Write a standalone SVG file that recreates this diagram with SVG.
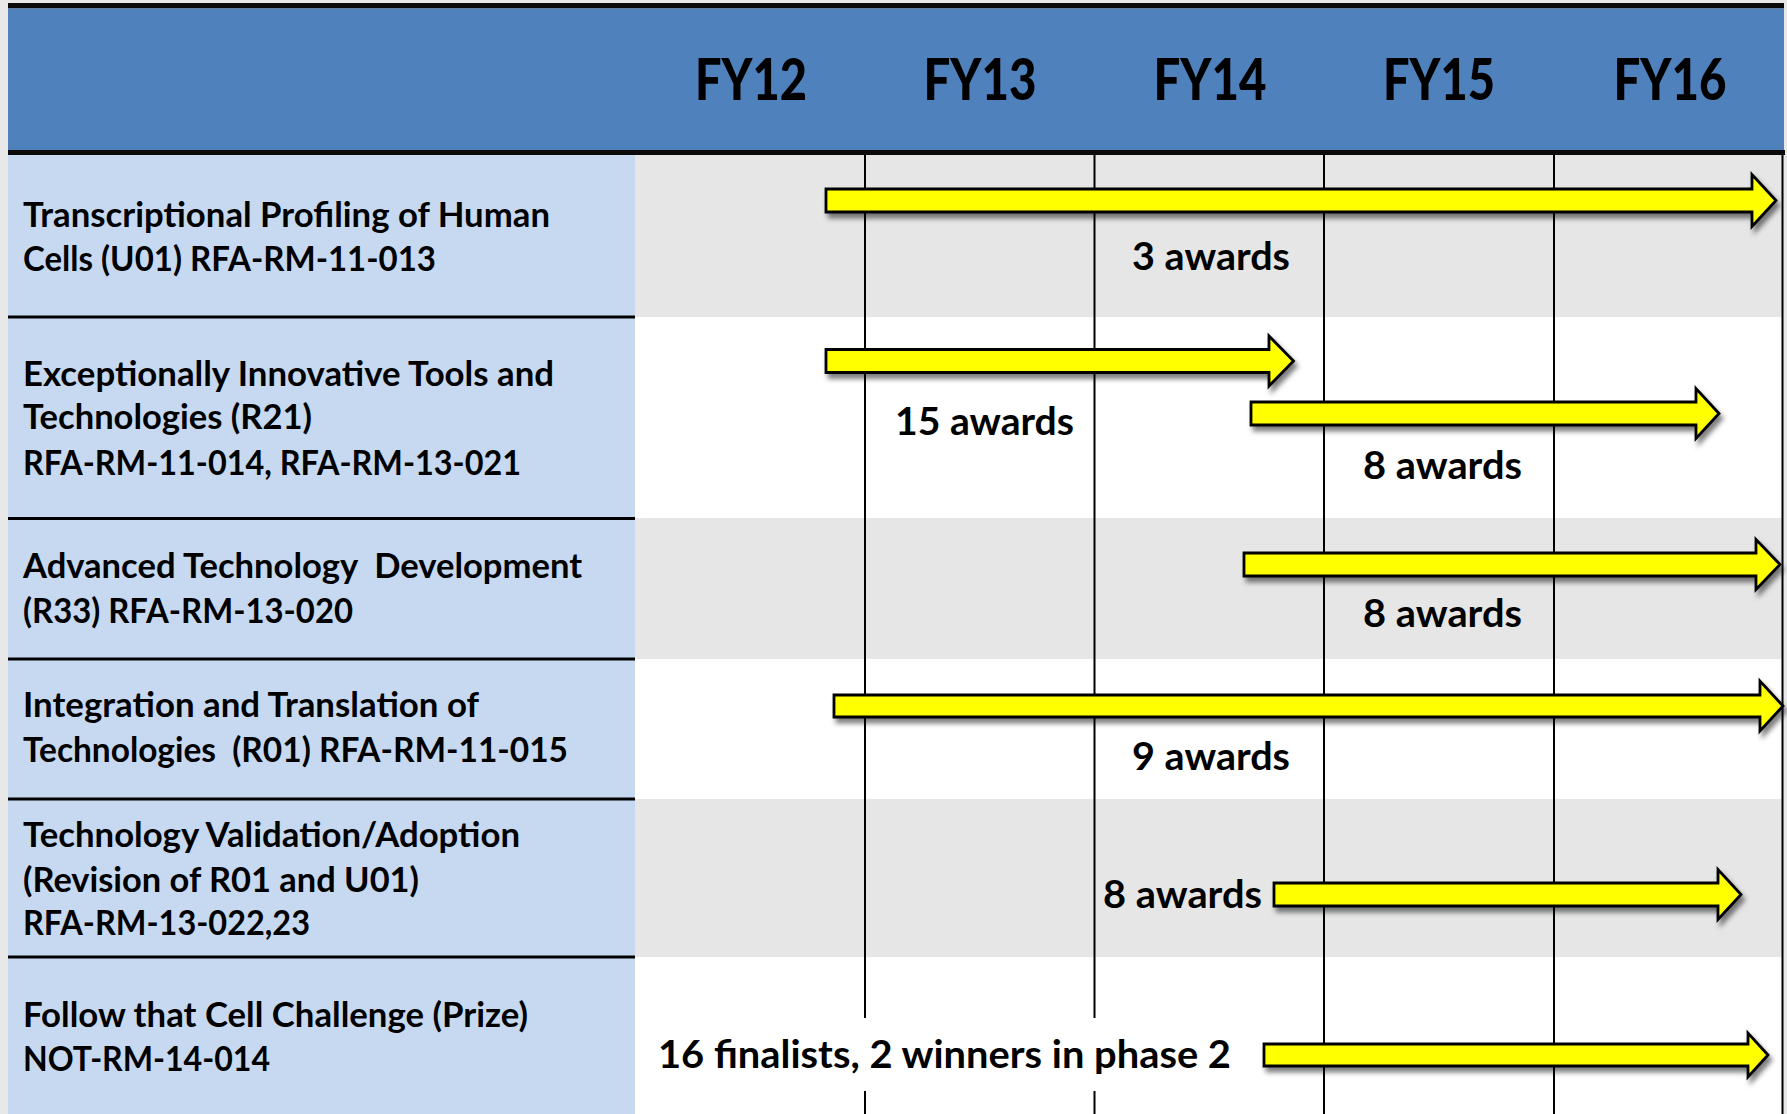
<svg xmlns="http://www.w3.org/2000/svg" width="1787" height="1114" viewBox="0 0 1787 1114">
<style>
text{font-family:Lato,"Liberation Sans",sans-serif;font-weight:bold;fill:#000;white-space:pre}
.fy{font-size:57px;text-anchor:middle;font-weight:900}
.lbl{font-size:33.5px}
.aw{font-size:39px}
.grid{stroke:#000;stroke-width:2}
.sep{stroke:#000;stroke-width:3}
.bar{fill:#ffff00;stroke:#000;stroke-width:2.8;stroke-linejoin:miter;filter:url(#sh)}
</style>
<defs>
<filter id="sh" x="-5%" y="-40%" width="115%" height="200%">
<feDropShadow dx="3" dy="5" stdDeviation="2.8" flood-color="#000" flood-opacity="0.5"/>
</filter>
</defs>
<rect x="0" y="0" width="1787" height="1114" fill="#e8e8e8"/>
<g id="header">
<rect x="8" y="3" width="1776" height="5.5" fill="#0a0a0a"/>
<rect x="8" y="8.5" width="1776" height="141.5" fill="#4f81bd"/>
<rect x="8" y="150" width="1777" height="5" fill="#0a0a0a"/>
<text class="fy" x="751" y="100" textLength="112" lengthAdjust="spacingAndGlyphs">FY12</text>
<text class="fy" x="980" y="100" textLength="113" lengthAdjust="spacingAndGlyphs">FY13</text>
<text class="fy" x="1210" y="100" textLength="113" lengthAdjust="spacingAndGlyphs">FY14</text>
<text class="fy" x="1439" y="100" textLength="112" lengthAdjust="spacingAndGlyphs">FY15</text>
<text class="fy" x="1670" y="100" textLength="113" lengthAdjust="spacingAndGlyphs">FY16</text>
</g>
<g id="backgrounds">
<rect x="8" y="155" width="627" height="959" fill="#c6d9f1"/>
<rect x="635" y="155" width="1148" height="162" fill="#e6e6e6"/>
<rect x="635" y="317" width="1148" height="201" fill="#ffffff"/>
<rect x="635" y="518" width="1148" height="141" fill="#e6e6e6"/>
<rect x="635" y="659" width="1148" height="140" fill="#ffffff"/>
<rect x="635" y="799" width="1148" height="158" fill="#e6e6e6"/>
<rect x="635" y="957" width="1148" height="157" fill="#ffffff"/>
</g>
<g id="gridlines">
<line class="grid" x1="865" y1="155" x2="865" y2="1114"/>
<line class="grid" x1="1094.5" y1="155" x2="1094.5" y2="1114"/>
<line class="grid" x1="1324" y1="155" x2="1324" y2="1114"/>
<line class="grid" x1="1554" y1="155" x2="1554" y2="1114"/>
<line class="grid" x1="1782.5" y1="155" x2="1782.5" y2="1114"/>
<line class="sep" x1="8" y1="317" x2="635" y2="317"/>
<line class="sep" x1="8" y1="518.5" x2="635" y2="518.5"/>
<line class="sep" x1="8" y1="659" x2="635" y2="659"/>
<line class="sep" x1="8" y1="799" x2="635" y2="799"/>
<line class="sep" x1="8" y1="957" x2="635" y2="957"/>
</g>
<g id="row1">
<text class="lbl" x="23" y="227" textLength="527" lengthAdjust="spacingAndGlyphs">Transcriptional Profiling of Human</text>
<text class="lbl" x="23" y="270.5" textLength="413" lengthAdjust="spacingAndGlyphs">Cells (U01) RFA-RM-11-013</text>
</g>
<g id="row2">
<text class="lbl" x="23" y="385.5" textLength="531" lengthAdjust="spacingAndGlyphs">Exceptionally Innovative Tools and</text>
<text class="lbl" x="23" y="429" textLength="289" lengthAdjust="spacingAndGlyphs">Technologies (R21)</text>
<text class="lbl" x="23" y="474.5" textLength="498" lengthAdjust="spacingAndGlyphs">RFA-RM-11-014, RFA-RM-13-021</text>
</g>
<g id="row3">
<text class="lbl" x="23" y="578" textLength="559" lengthAdjust="spacingAndGlyphs">Advanced Technology  Development</text>
<text class="lbl" x="23" y="623" textLength="330" lengthAdjust="spacingAndGlyphs">(R33) RFA-RM-13-020</text>
</g>
<g id="row4">
<text class="lbl" x="23" y="717" textLength="456" lengthAdjust="spacingAndGlyphs">Integration and Translation of</text>
<text class="lbl" x="23" y="762" textLength="545" lengthAdjust="spacingAndGlyphs">Technologies  (R01) RFA-RM-11-015</text>
</g>
<g id="row5">
<text class="lbl" x="23" y="847" textLength="497" lengthAdjust="spacingAndGlyphs">Technology Validation/Adoption</text>
<text class="lbl" x="23" y="892" textLength="396" lengthAdjust="spacingAndGlyphs">(Revision of R01 and U01)</text>
<text class="lbl" x="23" y="935" textLength="287" lengthAdjust="spacingAndGlyphs">RFA-RM-13-022,23</text>
</g>
<g id="row6">
<text class="lbl" x="23" y="1027" textLength="505" lengthAdjust="spacingAndGlyphs">Follow that Cell Challenge (Prize)</text>
<text class="lbl" x="23" y="1071" textLength="247" lengthAdjust="spacingAndGlyphs">NOT-RM-14-014</text>
</g>
<g id="bars">
<path class="bar" d="M826,189 L1752,189 L1752,174.5 L1776,200.5 L1752,226.5 L1752,212 L826,212 Z"/>
<path class="bar" d="M826,349.5 L1269,349.5 L1269,336 L1293.5,361 L1269,386 L1269,372.5 L826,372.5 Z"/>
<path class="bar" d="M1251,402 L1696,402 L1696,388.5 L1719,413.5 L1696,438.5 L1696,425 L1251,425 Z"/>
<path class="bar" d="M1244,553 L1756,553 L1756,539.5 L1780,564.5 L1756,589.5 L1756,576 L1244,576 Z"/>
<path class="bar" d="M834,695 L1760,695 L1760,681 L1783,706 L1760,731 L1760,717 L834,717 Z"/>
<path class="bar" d="M1274,883 L1718,883 L1718,869.5 L1741,894.5 L1718,919.5 L1718,906 L1274,906 Z"/>
<path class="bar" d="M1264,1044 L1748,1044 L1748,1033 L1768,1055 L1748,1077 L1748,1066 L1264,1066 Z"/>
</g>
<g id="award-labels">
<text class="aw" x="1132" y="270" textLength="158" lengthAdjust="spacingAndGlyphs">3 awards</text>
<text class="aw" x="895" y="435" textLength="179" lengthAdjust="spacingAndGlyphs">15 awards</text>
<text class="aw" x="1363" y="479" textLength="159" lengthAdjust="spacingAndGlyphs">8 awards</text>
<text class="aw" x="1363" y="627" textLength="159" lengthAdjust="spacingAndGlyphs">8 awards</text>
<text class="aw" x="1132" y="770" textLength="158" lengthAdjust="spacingAndGlyphs">9 awards</text>
<text class="aw" x="1103" y="908" textLength="159" lengthAdjust="spacingAndGlyphs">8 awards</text>
<rect x="645" y="1018" width="600" height="73" fill="#ffffff"/>
<text class="aw" x="658" y="1068" textLength="573" lengthAdjust="spacingAndGlyphs">16 finalists, 2 winners in phase 2</text>
</g>
</svg>
